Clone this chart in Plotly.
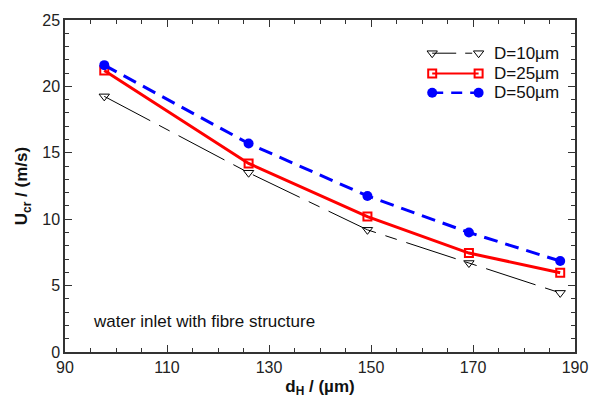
import plotly.graph_objects as go

# Hydraulic diameter d_H (µm)
d_h = [97.7, 126.0, 149.3, 169.2, 187.1]

# Critical velocity U_cr (m/s) for each fibre diameter D
u_d10 = [19.25, 13.5, 9.2, 6.7, 4.45]
u_d25 = [21.2, 14.2, 10.2, 7.45, 5.97]
u_d50 = [21.6, 15.7, 11.75, 9.0, 6.85]

series_names = ["D=10\u00b5m", "D=25\u00b5m", "D=50\u00b5m"]

FONT = "Liberation Sans, Arial, sans-serif"

styles = [
    dict(line=dict(color="#000000", width=1, dash="52px,10px,12px,10px"),
         marker=dict(symbol="triangle-down-open", size=9, color="#000000",
                     line=dict(width=1, color="#000000"))),
    dict(line=dict(color="#ff0000", width=3),
         marker=dict(symbol="square-open", size=8, color="#ff0000",
                     line=dict(width=2, color="#ff0000"))),
    dict(line=dict(color="#0000ff", width=3, dash="14px,8px"),
         marker=dict(symbol="circle", size=10, color="#0000ff",
                     line=dict(width=0))),
]

# Legend samples use slimmer lines than the data curves
legend_lines = [
    dict(color="#000000", width=1, dash="24px,9px,7px,9px"),
    dict(color="#ff0000", width=2),
    dict(color="#0000ff", width=2.5, dash="11px,8px"),
]

fig = go.Figure()
for name, ys, st in zip(series_names, [u_d10, u_d25, u_d50], styles):
    fig.add_trace(go.Scatter(x=d_h, y=ys, mode="lines+markers", name=name,
                             line=st["line"], marker=st["marker"],
                             showlegend=False))

# Legend keys with a marker at each end of the line sample
legend_rows = [0.900, 0.839, 0.781]
key_x0, key_x1, text_x = 0.720, 0.811, 0.838
for name, yrow, st, ln in zip(series_names, legend_rows, styles, legend_lines):
    fig.add_trace(go.Scatter(x=[key_x0, key_x1], y=[yrow, yrow],
                             mode="lines+markers", xaxis="x2", yaxis="y2",
                             line=ln, marker=st["marker"],
                             showlegend=False, hoverinfo="skip"))
    fig.add_annotation(x=text_x, y=yrow, xref="x2", yref="y2", text=name,
                       showarrow=False, xanchor="left", yanchor="middle",
                       font=dict(family=FONT, size=17, color="#111111"))

fig.add_annotation(x=0.05, y=0.092, xref="paper", yref="paper",
                   text="water inlet with fibre structure", showarrow=False,
                   xanchor="left", yanchor="middle",
                   font=dict(family=FONT, size=17, color="#111111"))

axis_common = dict(
    showline=True, linecolor="#333333", linewidth=1.5, mirror="ticks",
    ticks="inside", ticklen=7, tickwidth=1.2, tickcolor="#333333",
    showgrid=False, zeroline=False,
    tickfont=dict(family=FONT, size=16, color="#222222"),
)

fig.update_layout(
    width=600, height=405,
    margin=dict(l=65, r=12, t=17, b=49),
    paper_bgcolor="white", plot_bgcolor="white",
    xaxis=dict(range=[90, 190], tickvals=[90, 110, 130, 150, 170, 190],
               minor=dict(dtick=5, ticks="inside", ticklen=4,
                          tickcolor="#333333", tickwidth=1),
               title=dict(text="<b>d<sub>H</sub> / (\u00b5m)</b>", standoff=5,
                          font=dict(family=FONT, size=17, color="#111111")),
               **axis_common),
    yaxis=dict(range=[0, 25], tickvals=[0, 5, 10, 15, 20, 25],
               minor=dict(dtick=1, ticks="inside", ticklen=4,
                          tickcolor="#333333", tickwidth=1),
               title=dict(text="<b>U<sub>cr</sub> / (m/s)</b>", standoff=10,
                          font=dict(family=FONT, size=17, color="#111111")),
               **axis_common),
    xaxis2=dict(range=[0, 1], overlaying="x", visible=False, fixedrange=True),
    yaxis2=dict(range=[0, 1], overlaying="y", visible=False, fixedrange=True),
)

fig.write_html("out.html")
